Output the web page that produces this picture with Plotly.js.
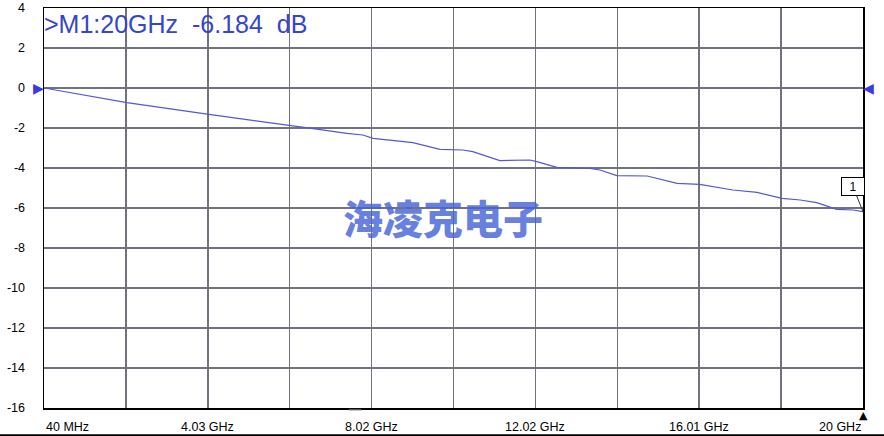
<!DOCTYPE html>
<html>
<head>
<meta charset="utf-8">
<script src="https://cdn.plot.ly/plotly-3.0.1.min.js"></script>
<style>
  html, body { margin: 0; padding: 0; background: #fff; }
  #chart { width: 884px; height: 436px; }
</style>
</head>
<body>
<div id="chart"></div>
<script>
// sweep settings
const startGHz = 0.04
const stopGHz = 20
const refLevel = 0

// trace (GHz, dB)
const freqGHz = [0.04, 2.06, 4.06, 4.98, 5.79, 6.04, 6.6, 7.42, 7.81, 8.06, 8.64, 9.03,
    9.69, 10.25, 10.49, 11.15, 11.88, 12.05, 12.54, 13.35, 13.59, 14.0, 14.74, 15.47,
    16.02, 16.83, 17.42, 18.03, 18.47, 18.87, 19.36, 19.76, 20.0]
const s21dB = [0, -0.73, -1.32, -1.57, -1.8, -1.85, -2.03, -2.27, -2.35, -2.52, -2.63, -2.73,
    -3.07, -3.1, -3.18, -3.63, -3.6, -3.68, -3.97, -4.02, -4.1, -4.38, -4.4, -4.77,
    -4.82, -5.1, -5.22, -5.52, -5.6, -5.73, -6.07, -6.1, -6.184]

const markerFreq = 20
const markerValue = -6.184

const xLabels = ["40 MHz", "", "4.03 GHz", "", "8.02 GHz", "", "12.02 GHz", "", "16.01 GHz", "", "20 GHz"]
const yTicks = [4, 2, 0, -2, -4, -6, -8, -10, -12, -14, -16]

const xTickVals = xLabels.map((_, i) => startGHz + i * (stopGHz - startGHz) / 10)

const grid = '#72727e'

const traces = [{
    x: freqGHz,
    y: s21dB,
    mode: 'lines',
    type: 'scatter',
    line: {color: '#5656d6', width: 1.2},
    hoverinfo: 'skip',
    showlegend: false,
}]

const annotations = []

// x labels: first one left-aligned, last one right-aligned
xLabels.forEach((t, i) => {
    if (!t) return
    annotations.push({
        x: xTickVals[i], y: 0, xref: 'x', yref: 'paper',
        text: t, showarrow: false,
        xanchor: i === 0 ? 'left' : (i === xLabels.length - 1 ? 'right' : 'center'),
        yanchor: 'top', yshift: -10,
        font: {family: 'Liberation Sans, Arial', size: 12.5, color: '#000'}
    })
})

// marker readout
annotations.push({
    x: 0, y: 1, xref: 'paper', yref: 'paper', xanchor: 'left', yanchor: 'top',
    yshift: 0, xshift: -2,
    text: '>M1:20GHz\u00a0\u00a0-6.184\u00a0\u00a0dB', showarrow: false,
    font: {family: 'Liberation Sans, Arial', size: 25, color: '#3446cc'}
})

// marker flag "1"
annotations.push({
    x: markerFreq, y: markerValue, xref: 'x', yref: 'y',
    text: '1', showarrow: true, arrowhead: 0, arrowwidth: 1, arrowcolor: '#333',
    ax: -10, ay: -25, bordercolor: '#000', borderwidth: 1, borderpad: 1,
    bgcolor: '#fff', width: 20, height: 15,
    font: {family: 'Liberation Sans, Arial', size: 12, color: '#000'}
})

// reference level arrows
annotations.push({
    x: startGHz, y: refLevel, xref: 'x', yref: 'y', text: '\u25B6', showarrow: false,
    xanchor: 'right', xshift: 2, font: {family: 'DejaVu Sans', size: 14, color: '#3a3ae0'}
})
annotations.push({
    x: stopGHz, y: refLevel, xref: 'x', yref: 'y', text: '\u25C0', showarrow: false,
    xanchor: 'left', xshift: -2, font: {family: 'DejaVu Sans', size: 14, color: '#3a3ae0'}
})
// marker position on the x axis
annotations.push({
    x: markerFreq, y: 0, xref: 'x', yref: 'paper', text: '\u25B2', showarrow: false,
    yanchor: 'top', yshift: 1, font: {family: 'DejaVu Sans', size: 11, color: '#000'}
})

// watermark
annotations.push({
    x: 0.487, y: 0.478, xref: 'paper', yref: 'paper', text: '海凌克电子', showarrow: false,
    font: {family: 'Noto Sans CJK SC', size: 40, weight: 900, color: 'rgba(70,100,215,0.82)'}
})

const layout = {
    width: 884,
    height: 436,
    margin: {l: 44, r: 21, t: 8, b: 28},
    paper_bgcolor: '#fff',
    plot_bgcolor: '#fff',
    showlegend: false,
    xaxis: {
        range: [startGHz, stopGHz],
        tickmode: 'array',
        tickvals: xTickVals,
        ticktext: xLabels.map(() => ''),
        showgrid: true, gridcolor: grid, gridwidth: 1.5,
        showline: true, mirror: true, linecolor: '#000', linewidth: 1.5,
        zeroline: false, ticks: '',
    },
    yaxis: {
        range: [-16, 4],
        tickmode: 'array',
        tickvals: yTicks,
        ticktext: yTicks.map(String),
        showgrid: true, gridcolor: grid, gridwidth: 1.5,
        showline: true, mirror: true, linecolor: '#000', linewidth: 1.5,
        zeroline: false, ticks: '', ticklabelstandoff: 15,
        tickfont: {family: 'Liberation Sans, Arial', size: 12.5, color: '#000'},
    },
    shapes: [
        // frame line along the bottom of the screen
        {type: 'line', xref: 'paper', yref: 'paper', x0: -0.06, x1: 1.03, y0: -0.068, y1: -0.068,
            line: {color: '#000', width: 2}},
        // small dash under the axis
        {type: 'line', xref: 'x', yref: 'paper', x0: 7.47, x1: 7.77, y0: -0.004, y1: -0.004,
            line: {color: '#555', width: 1.5}},
    ],
    annotations: annotations,
}

Plotly.newPlot('chart', traces, layout, {staticPlot: true, displayModeBar: false})
</script>
</body>
</html>
